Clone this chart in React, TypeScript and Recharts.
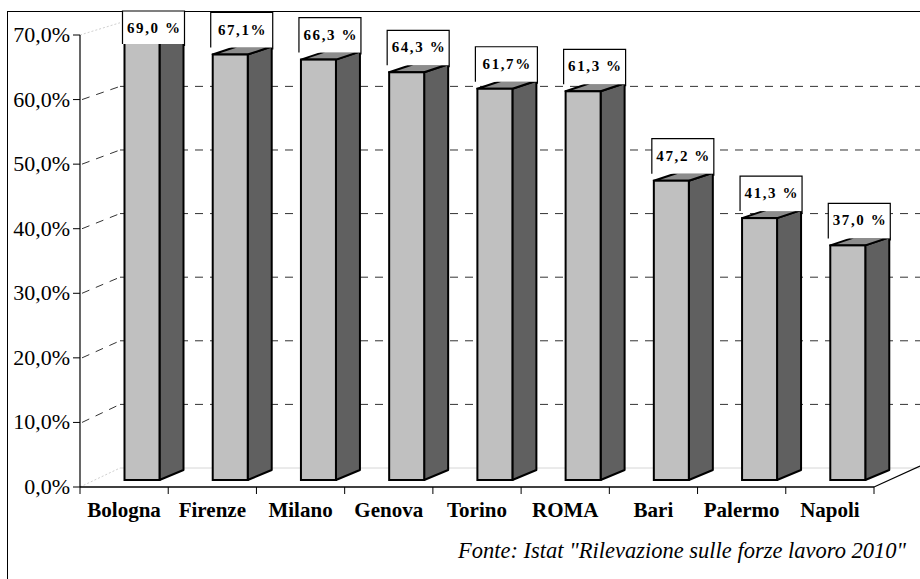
import React from 'react';
import { BarChart, Bar, XAxis, YAxis, CartesianGrid } from 'recharts';

const categories = ['Bologna', 'Firenze', 'Milano', 'Genova', 'Torino', 'ROMA', 'Bari', 'Palermo', 'Napoli'];
const values = [69.0, 67.1, 66.3, 64.3, 61.7, 61.3, 47.2, 41.3, 37.0];
const valueLabels = ['69,0 %', '67,1%', '66,3 %', '64,3 %', '61,7%', '61,3 %', '47,2 %', '41,3 %', '37,0 %'];
const yTicks = [0, 10, 20, 30, 40, 50, 60, 70];
const yTickLabels = ['0,0%', '10,0%', '20,0%', '30,0%', '40,0%', '50,0%', '60,0%', '70,0%'];
const sourceNote = 'Fonte: Istat "Rilevazione sulle forze lavoro 2010"';

const data = categories.map((name, i) => ({ name, value: values[i], label: valueLabels[i] }));

const W = 920;
const H = 579;
const MARGIN = { top: 35, right: 46, bottom: 62, left: 0 };
const Y_AXIS_W = 80;
const PLOT_W = W - MARGIN.left - MARGIN.right - Y_AXIS_W;
const PLOT_BOTTOM = H - MARGIN.bottom - 30;
const PLOT_TOP = MARGIN.top;
const FONT = 'Liberation Serif';
const fontStyle = (extra: any = {}) => ({ fontFamily: "'Liberation Serif', 'Times New Roman', serif", ...extra });

// 3D projection constants
const BACK_X = 120;
const BACK_SHIFT = 19;
const BACK_SCALE = 0.985;
const BAR_SHIFT = 17.5;
const BAR_DX = 24;
const BAR_DY_BOTTOM = -10;
const BAR_DY_TOP = -8;
const BAR_BASE_LIFT = 7;
const BAR_SCALE = 0.982;

function GridLine(p: any) {
  const y = p.y1;
  const key = p.key ?? `g-${p.index}`;
  const yb = PLOT_BOTTOM - BACK_SHIFT - (PLOT_BOTTOM - y) * BACK_SCALE;
  const x0 = p.x1;
  if (Math.abs(y - PLOT_BOTTOM) < 1) {
    return (
      <g key={key}>
        <line x1={x0} y1={y} x2={BACK_X} y2={yb} stroke="#cfcfcf" strokeWidth={1} strokeDasharray="2 2" />
        <line x1={BACK_X} y1={yb} x2={W} y2={yb} stroke="#d6d6d6" strokeWidth={1} />
      </g>
    );
  }
  if (Math.abs(y - PLOT_TOP) < 1) {
    return (
      <g key={key}>
        <line x1={x0} y1={y} x2={BACK_X} y2={yb} stroke="#d0d0d0" strokeWidth={1} strokeDasharray="2 2" />
      </g>
    );
  }
  return (
    <g key={key}>
      <line x1={x0 + 2} y1={y} x2={BACK_X} y2={yb} stroke="#333" strokeWidth={1} strokeDasharray="8 7" />
      <line x1={BACK_X} y1={yb} x2={W} y2={yb} stroke="#333" strokeWidth={1} strokeDasharray="8 7" />
    </g>
  );
}

function Prism(props: any) {
  const { x, y, width, height, index } = props;
  const axisBottom = y + height;
  const base = axisBottom - BAR_BASE_LIFT;
  const top = base - height * BAR_SCALE;
  const fl = x + BAR_SHIFT;
  const fr = fl + width;
  const side = `${fr},${top} ${fr + BAR_DX},${top + BAR_DY_TOP} ${fr + BAR_DX},${base + BAR_DY_BOTTOM} ${fr},${base}`;
  const topFace = `${fl},${top} ${fl + BAR_DX},${top + BAR_DY_TOP} ${fr + BAR_DX},${top + BAR_DY_TOP} ${fr},${top}`;
  const boxW = 62;
  const boxL = fl - 2;
  const boxR = boxL + boxW;
  let boxB = top + BAR_DY_TOP + 1;
  let boxT = boxB - 35;
  if (boxT < 11) {
    boxT = 11;
    boxB = boxT + 33;
  }
  const label = data[index]?.label ?? '';
  return (
    <g>
      <polygon points={side} fill="#606060" stroke="#000" strokeWidth={2} strokeLinejoin="round" />
      <polygon points={topFace} fill="#8c8c8c" stroke="#000" strokeWidth={2} strokeLinejoin="round" />
      <rect x={fl} y={top} width={width} height={base - top} fill="#c0c0c0" stroke="#000" strokeWidth={2} />
      <rect x={boxL} y={boxT} width={boxW} height={boxB - boxT} fill="#fff" />
      <polyline
        points={`${boxL},${boxB} ${boxL},${boxT} ${boxR},${boxT} ${boxR},${boxB + 2}`}
        fill="none"
        stroke="#000"
        strokeWidth={1.2}
      />
      <text
        x={boxL + boxW / 2 + 0.8}
        y={boxT + 22}
        textAnchor="middle"
        fontFamily={FONT}
        style={fontStyle({ fontWeight: 'bold', fontSize: 15, letterSpacing: 1.6 })}
        fill="#000"
      >
        {label}
      </text>
    </g>
  );
}

function YTick(props: any) {
  const { x, y, payload } = props;
  const i = yTicks.indexOf(payload.value);
  return (
    <text x={x} y={y + 7} textAnchor="end" fontFamily={FONT} style={fontStyle({ fontSize: 22 })} fill="#000">
      {i >= 0 ? yTickLabels[i] : ''}
    </text>
  );
}

function XTick(props: any) {
  const { x, y, payload, index } = props;
  const band = PLOT_W / categories.length;
  return (
    <g>
      {index === 0 && <line x1={x - band / 2} y1={y} x2={x - band / 2} y2={y + 7} stroke="#000" strokeWidth={1} />}
      <line x1={x + band / 2} y1={y} x2={x + band / 2} y2={y + 7} stroke="#000" strokeWidth={1} />
      <text
        x={x}
        y={y + 30}
        textAnchor="middle"
        fontFamily={FONT}
        style={fontStyle({ fontWeight: 'bold', fontSize: 21 })}
        fill="#000"
      >
        {payload.value}
      </text>
    </g>
  );
}

export default function App() {
  const axisRight = Y_AXIS_W + PLOT_W;
  return (
    <div style={{ position: 'absolute', left: 0, top: 0, width: W, height: H, background: '#fff', overflow: 'hidden' }}>
      <div
        style={{
          position: 'absolute',
          left: 7,
          top: 11,
          width: W,
          height: H,
          borderTop: '1.5px solid #000',
          borderLeft: '1.5px solid #000',
          boxSizing: 'border-box',
        }}
      />
      <div style={{ position: 'absolute', left: 0, top: 0 }}>
        <BarChart width={W} height={H} data={data} margin={MARGIN} barSize={35}>
          <CartesianGrid vertical={false} horizontal={GridLine as any} />
          <XAxis
            dataKey="name"
            height={30}
            tickLine={false}
            tickSize={0}
            tickMargin={0}
            axisLine={{ stroke: '#000', strokeWidth: 1.5 }}
            tick={<XTick />}
            interval={0}
          />
          <YAxis
            width={Y_AXIS_W}
            domain={[0, 70]}
            ticks={yTicks}
            tickSize={7}
            tickMargin={3}
            tickLine={{ stroke: '#000' }}
            axisLine={{ stroke: '#000', strokeWidth: 1.2 }}
            tick={<YTick />}
            interval={0}
          />
          <Bar dataKey="value" shape={<Prism />} isAnimationActive={false} />
        </BarChart>
      </div>
      <svg width={W} height={H} style={{ position: 'absolute', left: 0, top: 0, pointerEvents: 'none' }}>
        <line x1={axisRight} y1={PLOT_BOTTOM} x2={W} y2={PLOT_BOTTOM - 21} stroke="#000" strokeWidth={1.2} />
        <text
          x={906}
          y={558}
          textAnchor="end"
          fontFamily={FONT}
          style={fontStyle({ fontStyle: 'italic', fontSize: 22.5 })}
          fill="#000"
        >
          {sourceNote}
        </text>
      </svg>
    </div>
  );
}
